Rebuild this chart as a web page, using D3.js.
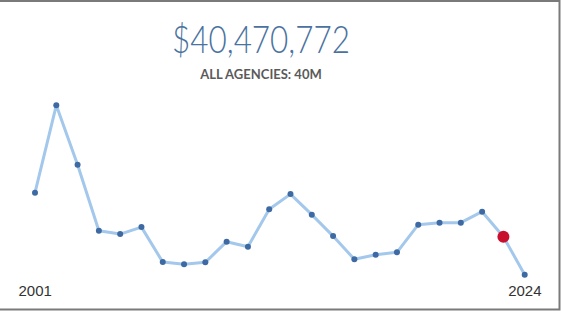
<!DOCTYPE html>
<html>
<head>
<meta charset="utf-8">
<script src="https://cdn.jsdelivr.net/npm/d3@7"></script>
<style>
  body { margin: 0; background: #fff; }
  svg { display: block; }
</style>
</head>
<body>
<svg id="container" width="561" height="311"></svg>
<script>
// yearly totals, millions of dollars
const years = [2001, 2002, 2003, 2004, 2005, 2006, 2007, 2008, 2009, 2010, 2011, 2012,
    2013, 2014, 2015, 2016, 2017, 2018, 2019, 2020, 2021, 2022, 2023, 2024];
const values = [62.5, 106.2, 76.5, 43.5, 41.8, 45.3, 27.8, 26.7, 27.7, 38.0, 35.5, 54.2,
    61.8, 51.5, 40.8, 29.2, 31.5, 32.7, 46.5, 47.5, 47.5, 53.0, 40.47, 21.5];
const selectedYear = 2023;
const totalLabel = "$40,470,772";
const subLabel = "ALL AGENCIES: 40M";
const axisLabels = ["2001", "2024"];

const svg = d3.select('#container');

const data = years.map((y, i) => ({ year: y, value: values[i] }));

const xScale = d3.scaleLinear().domain(d3.extent(years)).range([35, 524.7]);
const yScale = d3.scaleLinear().domain(d3.extent(values)).range([274.7, 105.3]);

// frame (top, right, bottom)
svg.append('path')
    .attr('d', 'M0,1 H559.5 V309.5 H0')
    .attr('fill', 'none')
    .attr('stroke', '#7a7a7a')
    .attr('stroke-width', 2);

svg.append('text')
    .attr('x', 261)
    .attr('y', 53)
    .attr('text-anchor', 'middle')
    .attr('font-family', 'Lato, sans-serif')
    .attr('font-weight', 300)
    .attr('font-size', 37)
    .attr('fill', '#4a72a0')
    .attr('textLength', 178)
    .attr('lengthAdjust', 'spacingAndGlyphs')
    .text(totalLabel);

svg.append('text')
    .attr('x', 261)
    .attr('y', 79)
    .attr('text-anchor', 'middle')
    .attr('font-family', 'Lato, sans-serif')
    .attr('font-weight', 700)
    .attr('font-size', 13)
    .attr('fill', '#5a5a5a')
    .text(subLabel);

const line = d3.line()
    .x(d => xScale(d.year))
    .y(d => yScale(d.value));

svg.append('path')
    .datum(data)
    .attr('d', line)
    .attr('fill', 'none')
    .attr('stroke', '#a3c8ec')
    .attr('stroke-width', 3)
    .attr('stroke-linejoin', 'round');

svg.selectAll('circle.pt')
    .data(data.filter(d => d.year !== selectedYear))
    .join('circle')
    .attr('class', 'pt')
    .attr('cx', d => xScale(d.year))
    .attr('cy', d => yScale(d.value))
    .attr('r', 3)
    .attr('fill', '#3e6aa3');

const sel = data.find(d => d.year === selectedYear);
svg.append('circle')
    .attr('cx', xScale(sel.year))
    .attr('cy', yScale(sel.value))
    .attr('r', 6)
    .attr('fill', '#c8102e');

svg.append('text')
    .attr('x', 18.5)
    .attr('y', 295.5)
    .attr('font-family', 'Liberation Sans, Arial, sans-serif')
    .attr('font-size', 15)
    .attr('fill', '#333')
    .text(axisLabels[0]);

svg.append('text')
    .attr('x', 541.5)
    .attr('y', 295.5)
    .attr('text-anchor', 'end')
    .attr('font-family', 'Liberation Sans, Arial, sans-serif')
    .attr('font-size', 15)
    .attr('fill', '#333')
    .text(axisLabels[1]);
</script>
</body>
</html>
